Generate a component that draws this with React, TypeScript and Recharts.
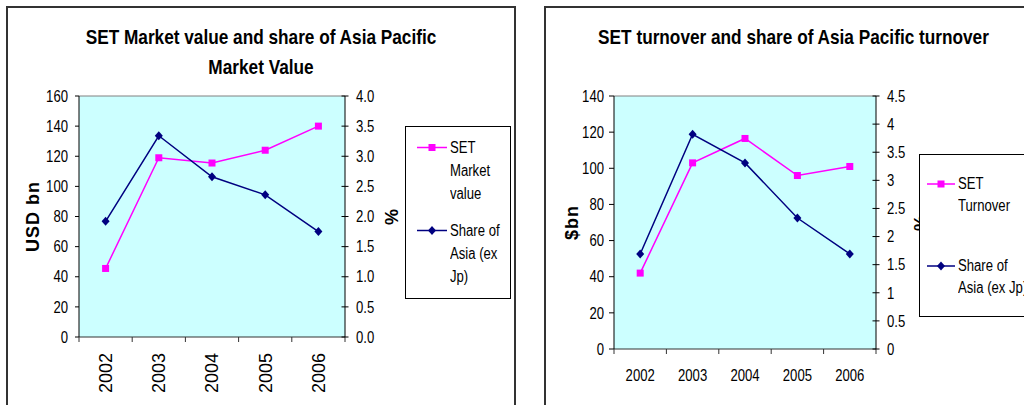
import React from 'react';
import { LineChart, Line, XAxis, YAxis, CartesianGrid, Legend, ReferenceLine } from 'recharts';

const years = ['2002', '2003', '2004', '2005', '2006'];
const marketValue = [45.5, 119, 115.5, 124, 140];
const marketShare = [1.92, 3.34, 2.66, 2.36, 1.75];
const turnover = [42, 103, 116.5, 96, 101];
const turnoverShare = [1.69, 3.82, 3.31, 2.33, 1.69];

const mvLeftTicks = [0, 20, 40, 60, 80, 100, 120, 140, 160];
const mvRightTicks = [0, 0.5, 1, 1.5, 2, 2.5, 3, 3.5, 4];
const toLeftTicks = [0, 20, 40, 60, 80, 100, 120, 140];
const toRightTicks = [0, 0.5, 1, 1.5, 2, 2.5, 3, 3.5, 4, 4.5];
// category axis: tick marks at category boundaries (integers), labels at centres (halves)
const categoryTicks = [0, 0.5, 1, 1.5, 2, 2.5, 3, 3.5, 4, 4.5, 5];

const mvData = years.map((year, i) => ({ year, pos: i + 0.5, value: marketValue[i], share: marketShare[i] }));
const toData = years.map((year, i) => ({ year, pos: i + 0.5, value: turnover[i], share: turnoverShare[i] }));

const FONT = '"Liberation Sans", Arial, sans-serif';
const SX = 0.82; // horizontal condensing to imitate a narrow face
const PINK = '#FF00FF';
const NAVY = '#000080';
const PLOT_BG = '#CCFFFF';

const SquareDot = (props: any) => {
  const { cx, cy } = props;
  if (cx == null || cy == null) return null;
  return <rect x={cx - 3.5} y={cy - 3.5} width={7} height={7} fill={PINK} />;
};

const DiamondDot = (props: any) => {
  const { cx, cy } = props;
  if (cx == null || cy == null) return null;
  return <path d={`M${cx},${cy - 4.5}L${cx + 4},${cy}L${cx},${cy + 4.5}L${cx - 4},${cy}Z`} fill={NAVY} />;
};

const NText = (p: { x: number; y: number; anchor: string; dy?: string; size?: number; children: any }) => {
  const { x, y, anchor, dy = '0.36em', size = 16 } = p;
  return (
    <text
      x={x}
      y={y}
      dy={dy}
      textAnchor={anchor}
      fontFamily={FONT}
      fontSize={size}
      fill="#000"
      transform={`translate(${x} ${y}) scale(${SX} 1) translate(${-x} ${-y})`}
    >
      {p.children}
    </text>
  );
};

const LeftTick = (props: any) => (
  <NText x={props.x} y={props.y} anchor="end">
    {props.payload.value}
  </NText>
);

const RightTick = (props: any) => {
  const { x, y, payload, fmt } = props;
  return (
    <g>
      <line x1={x - 14.5} x2={x - 7.5} y1={y} y2={y} stroke="#000" strokeWidth={1} />
      <NText x={x} y={y} anchor="start">
        {fmt(payload.value)}
      </NText>
    </g>
  );
};

// tick for the category axis: y is axis + tickSize + tickMargin
const CatTick = (props: any) => {
  const { x, y, payload, size, margin, rotated } = props;
  const v = payload.value;
  if (Number.isInteger(v)) {
    return <line x1={x} x2={x} y1={y - margin - size} y2={y - margin} stroke="#333" strokeWidth={1} />;
  }
  const label = years[Math.floor(v)];
  if (rotated) {
    return (
      <text x={x} y={y} dy="0.36em" textAnchor="end" fontFamily={FONT} fontSize={18} fill="#000" transform={`rotate(-90 ${x} ${y})`}>
        {label}
      </text>
    );
  }
  return (
    <NText x={x} y={y} anchor="middle" dy="0.71em">
      {label}
    </NText>
  );
};

const makeLegend = (cfg: {
  padTop: number;
  itemHeight: number;
  lineHeight: number;
  lineLeft: number;
  lineWidth: number;
  textWidth: number;
}) => (props: any) => {
  const payload = props.payload || [];
  return (
    <div
      style={{
        width: '100%',
        height: '100%',
        boxSizing: 'border-box',
        border: '1px solid #000',
        background: '#fff',
        paddingTop: cfg.padTop,
        fontFamily: FONT,
        fontSize: 16,
        color: '#000',
      }}
    >
      {payload.map((entry: any, i: number) => {
        const mid = cfg.lineHeight / 2;
        const cx = cfg.lineWidth / 2;
        return (
          <div key={i} style={{ display: 'flex', alignItems: 'flex-start', height: cfg.itemHeight }}>
            <svg width={cfg.lineWidth} height={cfg.lineHeight} style={{ marginLeft: cfg.lineLeft, flex: 'none' }}>
              <line x1={0} x2={cfg.lineWidth} y1={mid} y2={mid} stroke={entry.color} strokeWidth={1.5} />
              {entry.type === 'square' ? (
                <rect x={cx - 3.5} y={mid - 3.5} width={7} height={7} fill={entry.color} />
              ) : (
                <path d={`M${cx},${mid - 4.5}L${cx + 4},${mid}L${cx},${mid + 4.5}L${cx - 4},${mid}Z`} fill={entry.color} />
              )}
            </svg>
            <div
              style={{
                marginLeft: 3,
                width: cfg.textWidth / SX,
                lineHeight: `${cfg.lineHeight}px`,
                flex: 'none',
                transform: `scaleX(${SX})`,
                transformOrigin: 'left top',
              }}
            >
              {entry.value}
            </div>
          </div>
        );
      })}
    </div>
  );
};

const leftLegend = makeLegend({ padTop: 8.5, itemHeight: 83, lineHeight: 23, lineLeft: 11, lineWidth: 30, textWidth: 57 });
const rightLegend = makeLegend({ padTop: 18, itemHeight: 82, lineHeight: 22, lineLeft: 7, lineWidth: 28, textWidth: 74 });

const axisLabelStyle = { fontFamily: FONT, fontSize: 18, fontWeight: 'bold', fill: '#000', textAnchor: 'middle', letterSpacing: 1 } as any;

const titleStyle: React.CSSProperties = {
  position: 'absolute',
  top: 22,
  textAlign: 'center',
  fontFamily: FONT,
  fontWeight: 'bold',
  fontSize: 21,
  lineHeight: '30px',
  color: '#000',
  whiteSpace: 'nowrap',
  transform: `scaleX(${SX})`,
  transformOrigin: 'center top',
};

export default function App() {
  return (
    <div
      style={{
        position: 'absolute',
        left: 0,
        top: 0,
        width: 1024,
        height: 405,
        overflow: 'hidden',
        background: '#fff',
      }}
    >
      {/* frames */}
      <div style={{ position: 'absolute', left: 6, top: 6, width: 510, height: 420, border: '2px solid #333', boxSizing: 'border-box' }} />
      <div style={{ position: 'absolute', left: 544, top: 6, width: 520, height: 420, border: '2px solid #333', boxSizing: 'border-box' }} />

      {/* titles */}
      <div style={{ ...titleStyle, left: 7, width: 508 }}>
        SET Market value and share of Asia Pacific
        <br />
        Market Value
      </div>
      <div style={{ ...titleStyle, left: 545, width: 497 }}>SET turnover and share of Asia Pacific turnover</div>

      {/* left chart */}
      <div style={{ position: 'absolute', left: 0, top: 0 }}>
        <LineChart width={530} height={405} data={mvData} margin={{ top: 96, left: 29, right: 133, bottom: 8 }}>
          <XAxis
            xAxisId="x"
            type="number"
            dataKey="pos"
            domain={[0, 5]}
            allowDataOverflow
            ticks={categoryTicks}
            interval={0}
            height={60}
            tickLine={false}
            tickSize={5}
            tickMargin={11}
            axisLine={{ stroke: '#333' }}
            tick={<CatTick size={5} margin={11} rotated />}
          />
          <YAxis
            yAxisId="left"
            orientation="left"
            domain={[0, 160]}
            ticks={mvLeftTicks}
            interval={0}
            width={50}
            tickSize={4}
            tickMargin={7}
            axisLine={{ stroke: '#000' }}
            tickLine={{ stroke: '#000' }}
            tick={<LeftTick />}
            label={{ value: 'USD bn', angle: -90, position: 'insideLeft', offset: 4, style: axisLabelStyle }}
          />
          <YAxis
            yAxisId="right"
            orientation="right"
            domain={[0, 4]}
            ticks={mvRightTicks}
            interval={0}
            width={52}
            tickSize={4}
            tickMargin={7}
            tickLine={false}
            axisLine={{ stroke: '#000' }}
            tick={<RightTick fmt={(v: number) => v.toFixed(1)} />}
            label={{ value: '%', angle: -90, position: 'insideRight', offset: 5, style: axisLabelStyle }}
          />
          <CartesianGrid xAxisId="x" yAxisId="left" horizontal={false} vertical={false} fill={PLOT_BG} />
          <ReferenceLine xAxisId="x" yAxisId="left" y={160} stroke="#808080" strokeWidth={1} />
          <Line
            xAxisId="x"
            yAxisId="left"
            dataKey="value"
            name="SET Market value"
            stroke={PINK}
            strokeWidth={1.5}
            dot={<SquareDot />}
            activeDot={false}
            legendType="square"
            isAnimationActive={false}
          />
          <Line
            xAxisId="x"
            yAxisId="right"
            dataKey="share"
            name="Share of Asia (ex Jp)"
            stroke={NAVY}
            strokeWidth={1.5}
            dot={<DiamondDot />}
            activeDot={false}
            legendType="diamond"
            isAnimationActive={false}
          />
          <Legend
            layout="horizontal"
            align="center"
            verticalAlign="middle"
            content={leftLegend}
            wrapperStyle={{ left: 405, top: 126, width: 106, height: 173 }}
          />
        </LineChart>
      </div>

      {/* right chart */}
      <div style={{ position: 'absolute', left: 540, top: 0 }}>
        <LineChart width={484} height={405} data={toData} margin={{ top: 96, left: 14, right: 98, bottom: 6 }}>
          <XAxis
            xAxisId="x"
            type="number"
            dataKey="pos"
            domain={[0, 5]}
            allowDataOverflow
            ticks={categoryTicks}
            interval={0}
            height={50}
            tickLine={false}
            tickSize={5}
            tickMargin={16}
            axisLine={{ stroke: '#333' }}
            tick={<CatTick size={5} margin={16} />}
          />
          <YAxis
            yAxisId="left"
            orientation="left"
            domain={[0, 140]}
            ticks={toLeftTicks}
            interval={0}
            width={60}
            tickSize={5}
            tickMargin={5}
            axisLine={{ stroke: '#000' }}
            tickLine={{ stroke: '#000' }}
            tick={<LeftTick />}
            label={{ value: '$bn', angle: -90, position: 'insideLeft', offset: 18, style: axisLabelStyle }}
          />
          <YAxis
            yAxisId="right"
            orientation="right"
            domain={[0, 4.5]}
            ticks={toRightTicks}
            interval={0}
            width={50}
            tickSize={4}
            tickMargin={7}
            tickLine={false}
            axisLine={{ stroke: '#000' }}
            tick={<RightTick fmt={(v: number) => String(v)} />}
            label={{ value: '%', angle: -90, position: 'insideRight', offset: 5, style: axisLabelStyle }}
          />
          <CartesianGrid xAxisId="x" yAxisId="left" horizontal={false} vertical={false} fill={PLOT_BG} />
          <ReferenceLine xAxisId="x" yAxisId="left" y={140} stroke="#808080" strokeWidth={1} />
          <Line
            xAxisId="x"
            yAxisId="left"
            dataKey="value"
            name="SET Turnover"
            stroke={PINK}
            strokeWidth={1.5}
            dot={<SquareDot />}
            activeDot={false}
            legendType="square"
            isAnimationActive={false}
          />
          <Line
            xAxisId="x"
            yAxisId="right"
            dataKey="share"
            name="Share of Asia (ex Jp)"
            stroke={NAVY}
            strokeWidth={1.5}
            dot={<DiamondDot />}
            activeDot={false}
            legendType="diamond"
            isAnimationActive={false}
          />
          <Legend
            layout="horizontal"
            align="center"
            verticalAlign="middle"
            content={rightLegend}
            wrapperStyle={{ left: 379, top: 154, width: 130, height: 163 }}
          />
        </LineChart>
      </div>
    </div>
  );
}
